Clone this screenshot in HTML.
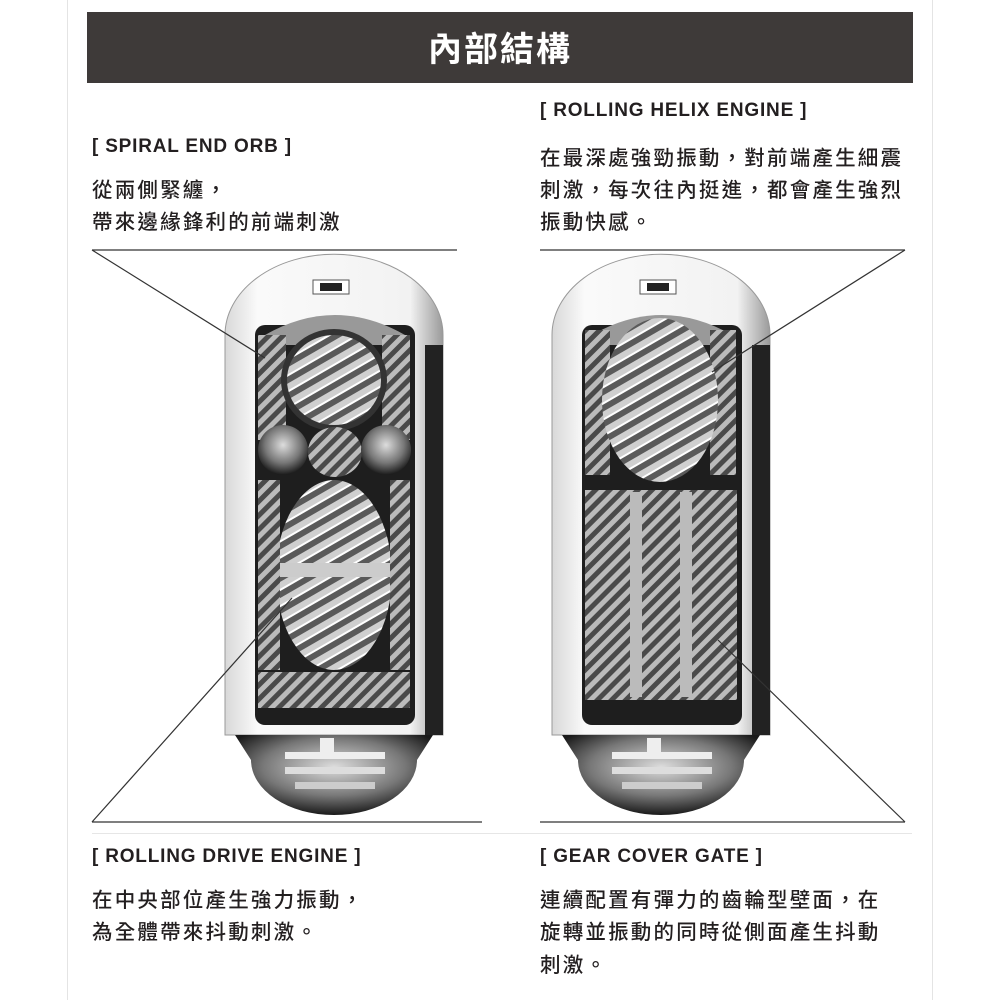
<!DOCTYPE html>
<html><head><meta charset="utf-8"><style>
body{margin:0;background:#fff;}
#c{position:relative;width:1000px;height:1000px;overflow:hidden;background:#fff;font-family:"Liberation Sans","Noto Sans CJK TC",sans-serif;color:#231f20;}
.t{position:absolute;white-space:nowrap;}
.h{font-weight:bold;font-size:19px;letter-spacing:0.8px;}
.p{font-size:20.5px;font-weight:500;letter-spacing:2.2px;}
</style></head><body><div id="c">
<svg width="1000" height="1000" style="position:absolute;left:0;top:0">
<defs>
<linearGradient id="sh" x1="0" x2="1"><stop offset="0" stop-color="#d8d8d8"/><stop offset=".15" stop-color="#fafafa"/><stop offset=".85" stop-color="#f2f2f2"/><stop offset="1" stop-color="#9a9a9a"/></linearGradient>
<radialGradient id="bl" cx=".5" cy=".4" r=".6"><stop offset="0" stop-color="#ddd"/><stop offset=".6" stop-color="#777"/><stop offset="1" stop-color="#1a1a1a"/></radialGradient>
<pattern id="tx" width="22" height="14" patternUnits="userSpaceOnUse" patternTransform="rotate(-30)"><rect width="22" height="14" fill="#5a5a5a"/><rect width="22" height="6" fill="#cfcfcf"/><rect y="6" width="22" height="2" fill="#fff"/></pattern>
<pattern id="tx2" width="10" height="10" patternUnits="userSpaceOnUse" patternTransform="rotate(45)"><rect width="10" height="10" fill="#4a4a4a"/><rect width="5" height="10" fill="#bbb"/></pattern>
<g id="dev">
<path d="M0,330 L0,80 A108,80 0 0 1 218,80 L218,480 L0,480 Z" fill="url(#sh)" stroke="#999"/>
<rect x="200" y="90" width="18" height="390" fill="#222"/>
<rect x="30" y="70" width="160" height="400" rx="10" fill="#1e1e1e"/>
<path d="M40,80 Q110,40 180,80 L180,90 L40,90Z" fill="#999"/>
<rect x="88" y="25" width="36" height="14" fill="#fff" stroke="#555"/>
<rect x="95" y="28" width="22" height="8" fill="#222"/>
<path d="M10,480 L208,480 L192,505 A83,55 0 0 1 26,505 Z" fill="url(#bl)"/>
<rect x="60" y="497" width="100" height="7" fill="#eee"/><rect x="60" y="512" width="100" height="7" fill="#ddd"/><rect x="70" y="527" width="80" height="7" fill="#ccc"/>
<rect x="95" y="483" width="14" height="14" fill="#eee"/>
</g>
</defs>
<rect x="67" y="0" width="1" height="1000" fill="#e4e4e4"/>
<rect x="932" y="0" width="1" height="1000" fill="#e4e4e4"/>
<rect x="87" y="12" width="826" height="71" fill="#3e3a39"/>
<use href="#dev" x="225" y="255"/>
<use href="#dev" x="552" y="255"/>
<rect x="258" y="335" width="28" height="105" fill="url(#tx2)"/><rect x="382" y="335" width="28" height="105" fill="url(#tx2)"/>
<ellipse cx="334" cy="380" rx="50" ry="48" fill="url(#tx)" stroke="#333" stroke-width="6"/>
<circle cx="283" cy="450" r="25" fill="url(#bl)"/><ellipse cx="335" cy="452" rx="27" ry="25" fill="url(#tx2)"/><circle cx="386" cy="450" r="25" fill="url(#bl)"/>
<ellipse cx="334" cy="575" rx="58" ry="95" fill="url(#tx)"/>
<rect x="278" y="563" width="112" height="14" fill="#ccc"/>
<rect x="258" y="480" width="22" height="190" fill="url(#tx2)"/><rect x="390" y="480" width="20" height="190" fill="url(#tx2)"/>
<rect x="258" y="672" width="152" height="36" fill="url(#tx2)"/>
<rect x="585" y="330" width="25" height="145" fill="url(#tx2)"/><rect x="710" y="330" width="26" height="145" fill="url(#tx2)"/>
<ellipse cx="660" cy="400" rx="58" ry="82" fill="url(#tx)"/>
<rect x="585" y="490" width="152" height="210" fill="url(#tx2)"/>
<rect x="630" y="492" width="12" height="205" fill="#bbb"/><rect x="680" y="492" width="12" height="205" fill="#bbb"/>
<g stroke="#333" stroke-width="1.2" fill="none">
<path d="M92,250H457M92,250L265,358"/>
<path d="M92,822H482M92,822L292,598"/>
<path d="M540,250H905M905,250L712,372"/>
<path d="M540,822H905M905,822L718,640"/>
</g>
<rect x="92" y="833" width="820" height="1" fill="#e6e6e6"/>
</svg>
<div class="t" style="left:0;width:1000px;text-align:center;top:22px;color:#fff;font-size:34px;font-weight:bold;letter-spacing:2px">內部結構</div>
<div class="t h" style="left:92px;top:136px">[ SPIRAL END ORB ]</div>
<div class="t p" style="left:92px;top:173px">從兩側緊纏，</div>
<div class="t p" style="left:92px;top:205px">帶來邊緣鋒利的前端刺激</div>
<div class="t h" style="left:540px;top:100px">[ ROLLING HELIX ENGINE ]</div>
<div class="t p" style="left:540px;top:141px">在最深處強勁振動，對前端產生細震</div>
<div class="t p" style="left:540px;top:173px">刺激，每次往內挺進，都會產生強烈</div>
<div class="t p" style="left:540px;top:205px">振動快感。</div>
<div class="t h" style="left:92px;top:846px">[ ROLLING DRIVE ENGINE ]</div>
<div class="t p" style="left:92px;top:883px">在中央部位產生強力振動，</div>
<div class="t p" style="left:92px;top:915px">為全體帶來抖動刺激。</div>
<div class="t h" style="left:540px;top:846px">[ GEAR COVER GATE ]</div>
<div class="t p" style="left:540px;top:883px">連續配置有彈力的齒輪型壁面，在</div>
<div class="t p" style="left:540px;top:915px">旋轉並振動的同時從側面產生抖動</div>
<div class="t p" style="left:540px;top:948px">刺激。</div>
</div></body></html>
